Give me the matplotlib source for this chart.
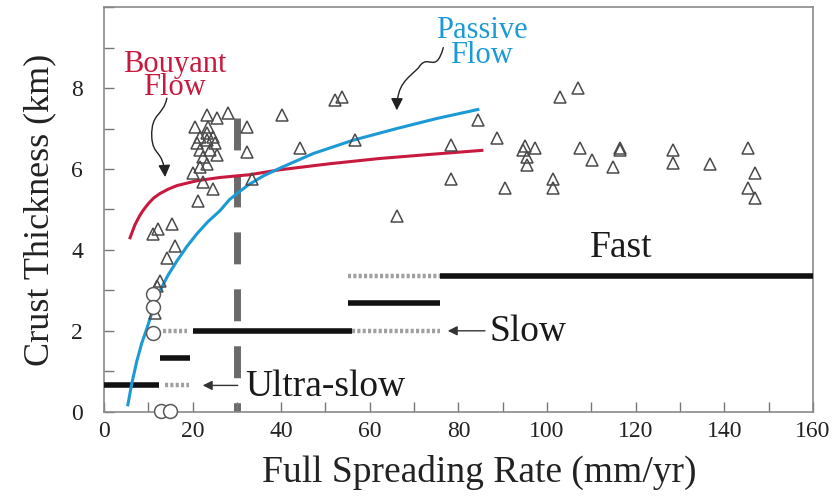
import matplotlib
matplotlib.use('Agg')
import matplotlib.pyplot as plt
from matplotlib.path import Path
from matplotlib.patches import FancyArrowPatch

plt.rcParams['font.family'] = ['Liberation Serif', 'DejaVu Serif']

# crust thickness data (mm/yr, km)
tri_x = [11.1, 12.2, 15.3, 16.0, 14.2, 12.6, 12.0, 11.5,
         21.2, 24.6, 22.3, 20.1, 33.4, 21.7, 23.2, 22.3, 21.7, 23.9, 25.5, 21.0,
         23.2, 25.1, 21.7, 23.2, 24.6, 20.5, 23.5, 23.2, 25.5, 28.0, 32.3, 32.3,
         40.2, 44.2, 52.1, 53.7, 56.7, 66.1, 78.3, 78.3, 84.4, 88.7, 102.9, 107.0,
         95.0, 97.3, 94.6, 95.5, 95.5, 90.5, 101.4, 101.4, 107.4, 110.1, 116.5,
         116.5, 114.9, 128.4, 128.4, 136.8, 145.4, 147.0, 145.4, 147.0]
tri_y = [4.40, 4.52, 4.65, 4.10, 3.80, 3.23, 3.10, 2.43,
         5.22, 5.50, 5.67, 5.90, 5.76, 6.04, 6.13, 6.29, 6.46, 6.46, 6.34, 6.63,
         6.71, 6.63, 6.78, 6.88, 6.78, 7.03, 7.03, 7.33, 7.25, 7.38, 7.03, 6.41,
         7.33, 6.53, 7.70, 7.78, 6.71, 4.84, 6.60, 5.76, 7.20, 6.76, 7.78, 8.00,
         6.58, 6.51, 6.46, 6.29, 6.09, 5.52, 5.76, 5.54, 6.53, 6.21, 6.53,
         6.46, 6.04, 6.46, 6.16, 6.13, 6.53, 5.91, 5.54, 5.29]
circ_x = [11.1, 11.1, 11.1, 12.8, 14.9]
circ_y = [2.90, 2.60, 1.94, 0.02, 0.02]

# model curves
passive_x = [5.4, 6.3, 7.4, 8.5, 9.7, 11.0, 12.6, 14.5, 16.5, 18.7, 21.0, 23.5, 26.2,
             28.4, 32.5, 36.0, 39.7, 47.2, 56.2, 66.1, 75.2, 84.4]
passive_y = [0.17, 0.70, 1.24, 1.68, 2.06, 2.50, 2.98, 3.38, 3.73, 4.08, 4.40, 4.70, 4.97,
             5.25, 5.60, 5.83, 6.02, 6.38, 6.71, 7.00, 7.25, 7.47]
bouyant_x = [5.9, 7.0, 8.0, 8.8, 10.0, 11.2, 12.6, 14.5, 16.5, 21.0, 26.2, 33.0,
             39.7, 51.0, 62.3, 73.6, 85.3]
bouyant_y = [4.30, 4.62, 4.83, 4.97, 5.14, 5.28, 5.39, 5.50, 5.59, 5.71, 5.79, 5.86,
             5.98, 6.13, 6.26, 6.36, 6.46]

# spreading-rate class bars: (thickness, rate from, rate to)
solid_y = [0.65, 1.32, 2.0, 2.68, 3.35]
solid_x0 = [0.0, 12.6, 20.1, 55.0, 75.8]
solid_x1 = [12.4, 19.4, 56.0, 75.8, 160.0]
dot_y = [0.65, 2.0, 2.0, 3.35]
dot_x0 = [13.8, 13.3, 56.0, 55.0]
dot_x1 = [19.2, 18.7, 75.8, 75.8]

fig = plt.figure(figsize=(8.38, 4.97), dpi=100)
ax = fig.add_axes([0.124, 0.1716, 0.846, 0.814])

# dashed 30 mm/yr line
ax.plot([30, 30], [7.25, 0], color='#6a6a6a', lw=5, dashes=(4.6, 3.6), zorder=1)

for y, a, b in zip(dot_y, dot_x0, dot_x1):
    ax.plot([a, b], [y, y], color='#a0a0a0', lw=3.2, dashes=(0.7, 0.5), zorder=2)
for y, a, b in zip(solid_y, solid_x0, solid_x1):
    ax.plot([a, b], [y, y], color='#111111', lw=4, solid_capstyle='butt', zorder=3)

ax.plot(bouyant_x, bouyant_y, color='#c8193f', lw=2.2, zorder=4)
ax.plot(passive_x, passive_y, color='#1b9ad6', lw=2.2, zorder=4)

ax.plot(tri_x, tri_y, ls='none', marker='^', ms=9, mfc='none', mec='#4a4a4a', mew=1.1, zorder=5)
ax.plot(circ_x, circ_y, ls='none', marker='o', ms=10, mfc='white', mec='#5a5a5a', mew=1.1,
        zorder=5, clip_on=False)

# labels on the plot
ax.text(16.0, 8.3, 'Bouyant\nFlow', color='#c8193f', fontsize=22, ha='center', va='center',
        linespacing=0.72)
ax.text(85.3, 9.12, 'Passive\nFlow', color='#1b9ad6', fontsize=22, ha='center', va='center',
        linespacing=0.8)
ax.text(116.7, 4.05, 'Fast', fontsize=27, ha='center', va='center', color='#1a1a1a')
ax.text(87.1, 1.97, 'Slow', fontsize=27, ha='left', va='center', color='#1a1a1a')
ax.text(31.8, 0.62, 'Ultra-slow', fontsize=27, ha='left', va='center', color='#1a1a1a')

arr = dict(arrowstyle='-|>', color='#333333', lw=1.0, mutation_scale=14, shrinkA=0, shrinkB=0)
ax.annotate('', xy=(22.3, 0.65), xytext=(30.2, 0.65), arrowprops=arr)
ax.annotate('', xy=(77.6, 2.0), xytext=(86.0, 2.0), arrowprops=arr)

# curly arrows
p1 = Path([(14.2, 7.75), (13.4, 7.3), (10.6, 7.4), (10.8, 6.8),
           (11.0, 6.3), (13.4, 6.5), (13.8, 5.8)],
          [Path.MOVETO, Path.CURVE4, Path.CURVE4, Path.CURVE4,
           Path.CURVE4, Path.CURVE4, Path.CURVE4])
p2 = Path([(76.6, 9.0), (74.8, 8.3), (73.2, 8.9), (71.0, 8.5),
           (68.2, 8.2), (66.2, 8.1), (66.1, 7.45)],
          [Path.MOVETO, Path.CURVE4, Path.CURVE4, Path.CURVE4,
           Path.CURVE4, Path.CURVE4, Path.CURVE4])
for p in (p1, p2):
    ax.add_patch(FancyArrowPatch(path=p, arrowstyle='-|>', color='#222222', lw=1.0,
                                 mutation_scale=18))

ax.set_xlim(0, 160)
ax.set_ylim(0, 10)
ax.set_xticks(range(0, 161, 20))
ax.set_xticks(range(0, 161, 10), minor=True)
ax.set_yticks(range(0, 9, 2))
ax.set_yticks(range(0, 11), minor=True)
ax.tick_params(which='both', direction='in', length=7, width=1, color='#777777',
               labelsize=17, labelcolor='#222222')
ax.tick_params(axis='x', pad=7)
ax.tick_params(axis='y', pad=15)
for s in ax.spines.values():
    s.set_color('#8a8a8a')
    s.set_linewidth(1.2)

ax.set_xlabel('Full Spreading Rate (mm/yr)', fontsize=27, color='#222222', labelpad=9, x=0.53)
ax.set_ylabel('Crust Thickness (km)', fontsize=26, color='#222222', labelpad=11)

fig.savefig('out.png', dpi=100)
